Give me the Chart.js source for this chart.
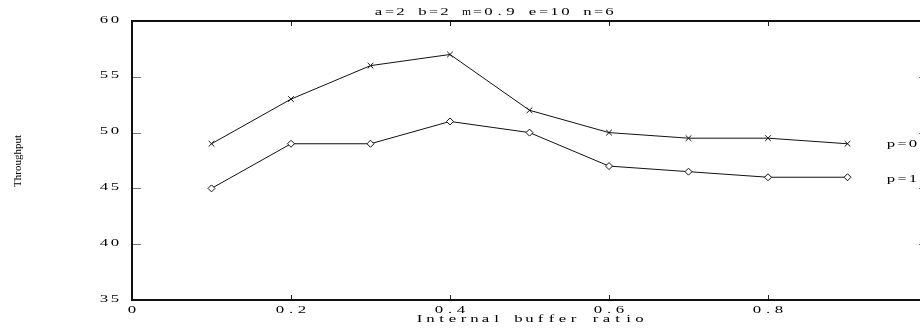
<!DOCTYPE html>
<html>
<head>
<meta charset="utf-8">
<script src="https://cdn.jsdelivr.net/npm/chart.js@4.4.0/dist/chart.umd.min.js"></script>
<style>
html, body { margin: 0; padding: 0; background: #fff; overflow: hidden; }
#wrap { width: 940px; height: 328px; }
</style>
</head>
<body>
<div id="wrap"><canvas id="chart" width="940" height="328"></canvas></div>
<script>
// data
var titleText = 'a=2 b=2 m=0.9 e=10 n=6';
var xLabel = 'Internal buffer ratio';
var yLabel = 'Throughput';
var seriesNames = ['p=0', 'p=1'];
var xValues = [0.1, 0.2, 0.3, 0.4, 0.5, 0.6, 0.7, 0.8, 0.9];
var p0Values = [49, 53, 56, 57, 52, 50, 49.5, 49.5, 49];
var p1Values = [45, 49, 49, 51, 50, 47, 46.5, 46, 46];
var xTicks = [0, 0.2, 0.4, 0.6, 0.8, 1];
var yTicks = [35, 40, 45, 50, 55, 60];

var gpFont = "12px 'Liberation Serif', 'DejaVu Serif', serif";
var cell = 11;

function toPoints(xs, ys) {
  var pts = [];
  for (var i = 0; i < xs.length; i++) {
    pts.push({ x: xs[i], y: ys[i] });
  }
  return pts;
}

// old gnuplot terminal font: fixed cells, wide and flat glyphs
function gpText(ctx, text, x, y, align) {
  var w = text.length * cell - 3;
  var x0 = x;
  if (align === 'center') x0 = x - w / 2;
  if (align === 'right') x0 = x - w;
  ctx.save();
  ctx.font = gpFont;
  ctx.fillStyle = '#000';
  ctx.textAlign = 'center';
  ctx.textBaseline = 'middle';
  for (var i = 0; i < text.length; i++) {
    var ch = text[i];
    if (ch === ' ') continue;
    var gw = ctx.measureText(ch).width || 1;
    var sx = Math.min(1.4, 9 / gw);
    ctx.save();
    ctx.translate(x0 + i * cell + 4, y);
    ctx.scale(sx, 0.82);
    ctx.fillText(ch, 0, 0);
    ctx.restore();
  }
  ctx.restore();
}

// frame, inward ticks and all texts
var gnuplotFrame = {
  id: 'gnuplotFrame',
  afterDraw: function (chart) {
    var ctx = chart.ctx;
    var a = chart.chartArea;
    var xs = chart.scales.x, ys = chart.scales.y;
    ctx.save();
    // ticks
    ctx.lineWidth = 1;
    ctx.strokeStyle = '#222';
    xTicks.forEach(function (v) {
      var px = Math.round(xs.getPixelForValue(v)) + 0.5;
      ctx.beginPath();
      ctx.moveTo(px, a.bottom); ctx.lineTo(px, a.bottom - 5);
      ctx.moveTo(px, a.top); ctx.lineTo(px, a.top + 5);
      ctx.stroke();
    });
    ctx.strokeStyle = '#777';
    yTicks.forEach(function (v) {
      var py = Math.round(ys.getPixelForValue(v)) + 0.5;
      ctx.beginPath();
      ctx.moveTo(a.left, py); ctx.lineTo(a.left + 9, py);
      ctx.moveTo(a.right, py); ctx.lineTo(a.right - 8, py);
      ctx.stroke();
    });
    // frame
    ctx.strokeStyle = '#111';
    ctx.lineWidth = 2;
    ctx.strokeRect(a.left, a.top, a.right - a.left, a.bottom - a.top);
    ctx.restore();

    // tick labels from the scales
    xTicks.forEach(function (v) {
      gpText(ctx, String(v), xs.getPixelForValue(v), a.bottom + 10, 'center');
    });
    yTicks.forEach(function (v) {
      gpText(ctx, String(v), a.left - 13, ys.getPixelForValue(v) - 1, 'right');
    });

    // title, axis label, key
    gpText(ctx, titleText, 494, 12, 'center');
    gpText(ctx, xLabel, (a.left + a.right) / 2, 319, 'center');
    gpText(ctx, seriesNames[0], 887, 144, 'left');
    gpText(ctx, seriesNames[1], 887, 179, 'left');

    // y axis label, serif, rotated
    ctx.save();
    ctx.fillStyle = '#000';
    ctx.font = "11px 'Liberation Serif', 'DejaVu Serif', serif";
    ctx.translate(18, 161);
    ctx.rotate(-Math.PI / 2);
    ctx.textAlign = 'center';
    ctx.textBaseline = 'middle';
    ctx.fillText(yLabel, 0, 0);
    ctx.restore();
  }
};

var ctx = document.getElementById('chart').getContext('2d');
var myChart = new Chart(ctx, {
  type: 'line',
  data: {
    datasets: [
      {
        label: seriesNames[0],
        data: toPoints(xValues, p0Values),
        borderColor: '#111',
        borderWidth: 1,
        pointStyle: 'crossRot',
        pointRadius: 4,
        pointBorderColor: '#111',
        pointBorderWidth: 1,
        pointBackgroundColor: '#fff',
        tension: 0
      },
      {
        label: seriesNames[1],
        data: toPoints(xValues, p1Values),
        borderColor: '#111',
        borderWidth: 1,
        pointStyle: 'rectRot',
        pointRadius: 3.5,
        pointBorderColor: '#111',
        pointBorderWidth: 1,
        pointBackgroundColor: '#fff',
        tension: 0
      }
    ]
  },
  options: {
    responsive: false,
    animation: false,
    devicePixelRatio: 1,
    layout: { padding: { top: 21, right: 13, left: 0, bottom: 0 } },
    plugins: {
      legend: { display: false },
      title: { display: false },
      tooltip: { enabled: false }
    },
    scales: {
      x: {
        type: 'linear',
        min: 0,
        max: 1,
        afterBuildTicks: function (scale) {
          scale.ticks = xTicks.map(function (v) { return { value: v }; });
        },
        afterFit: function (scale) { scale.height = 28; },
        grid: { display: false, drawTicks: false },
        border: { display: false },
        ticks: { display: false }
      },
      y: {
        min: 35,
        max: 60,
        afterBuildTicks: function (scale) {
          scale.ticks = yTicks.map(function (v) { return { value: v }; });
        },
        afterFit: function (scale) { scale.width = 132; },
        grid: { display: false, drawTicks: false },
        border: { display: false },
        ticks: { display: false }
      }
    }
  },
  plugins: [gnuplotFrame]
});
</script>
</body>
</html>
